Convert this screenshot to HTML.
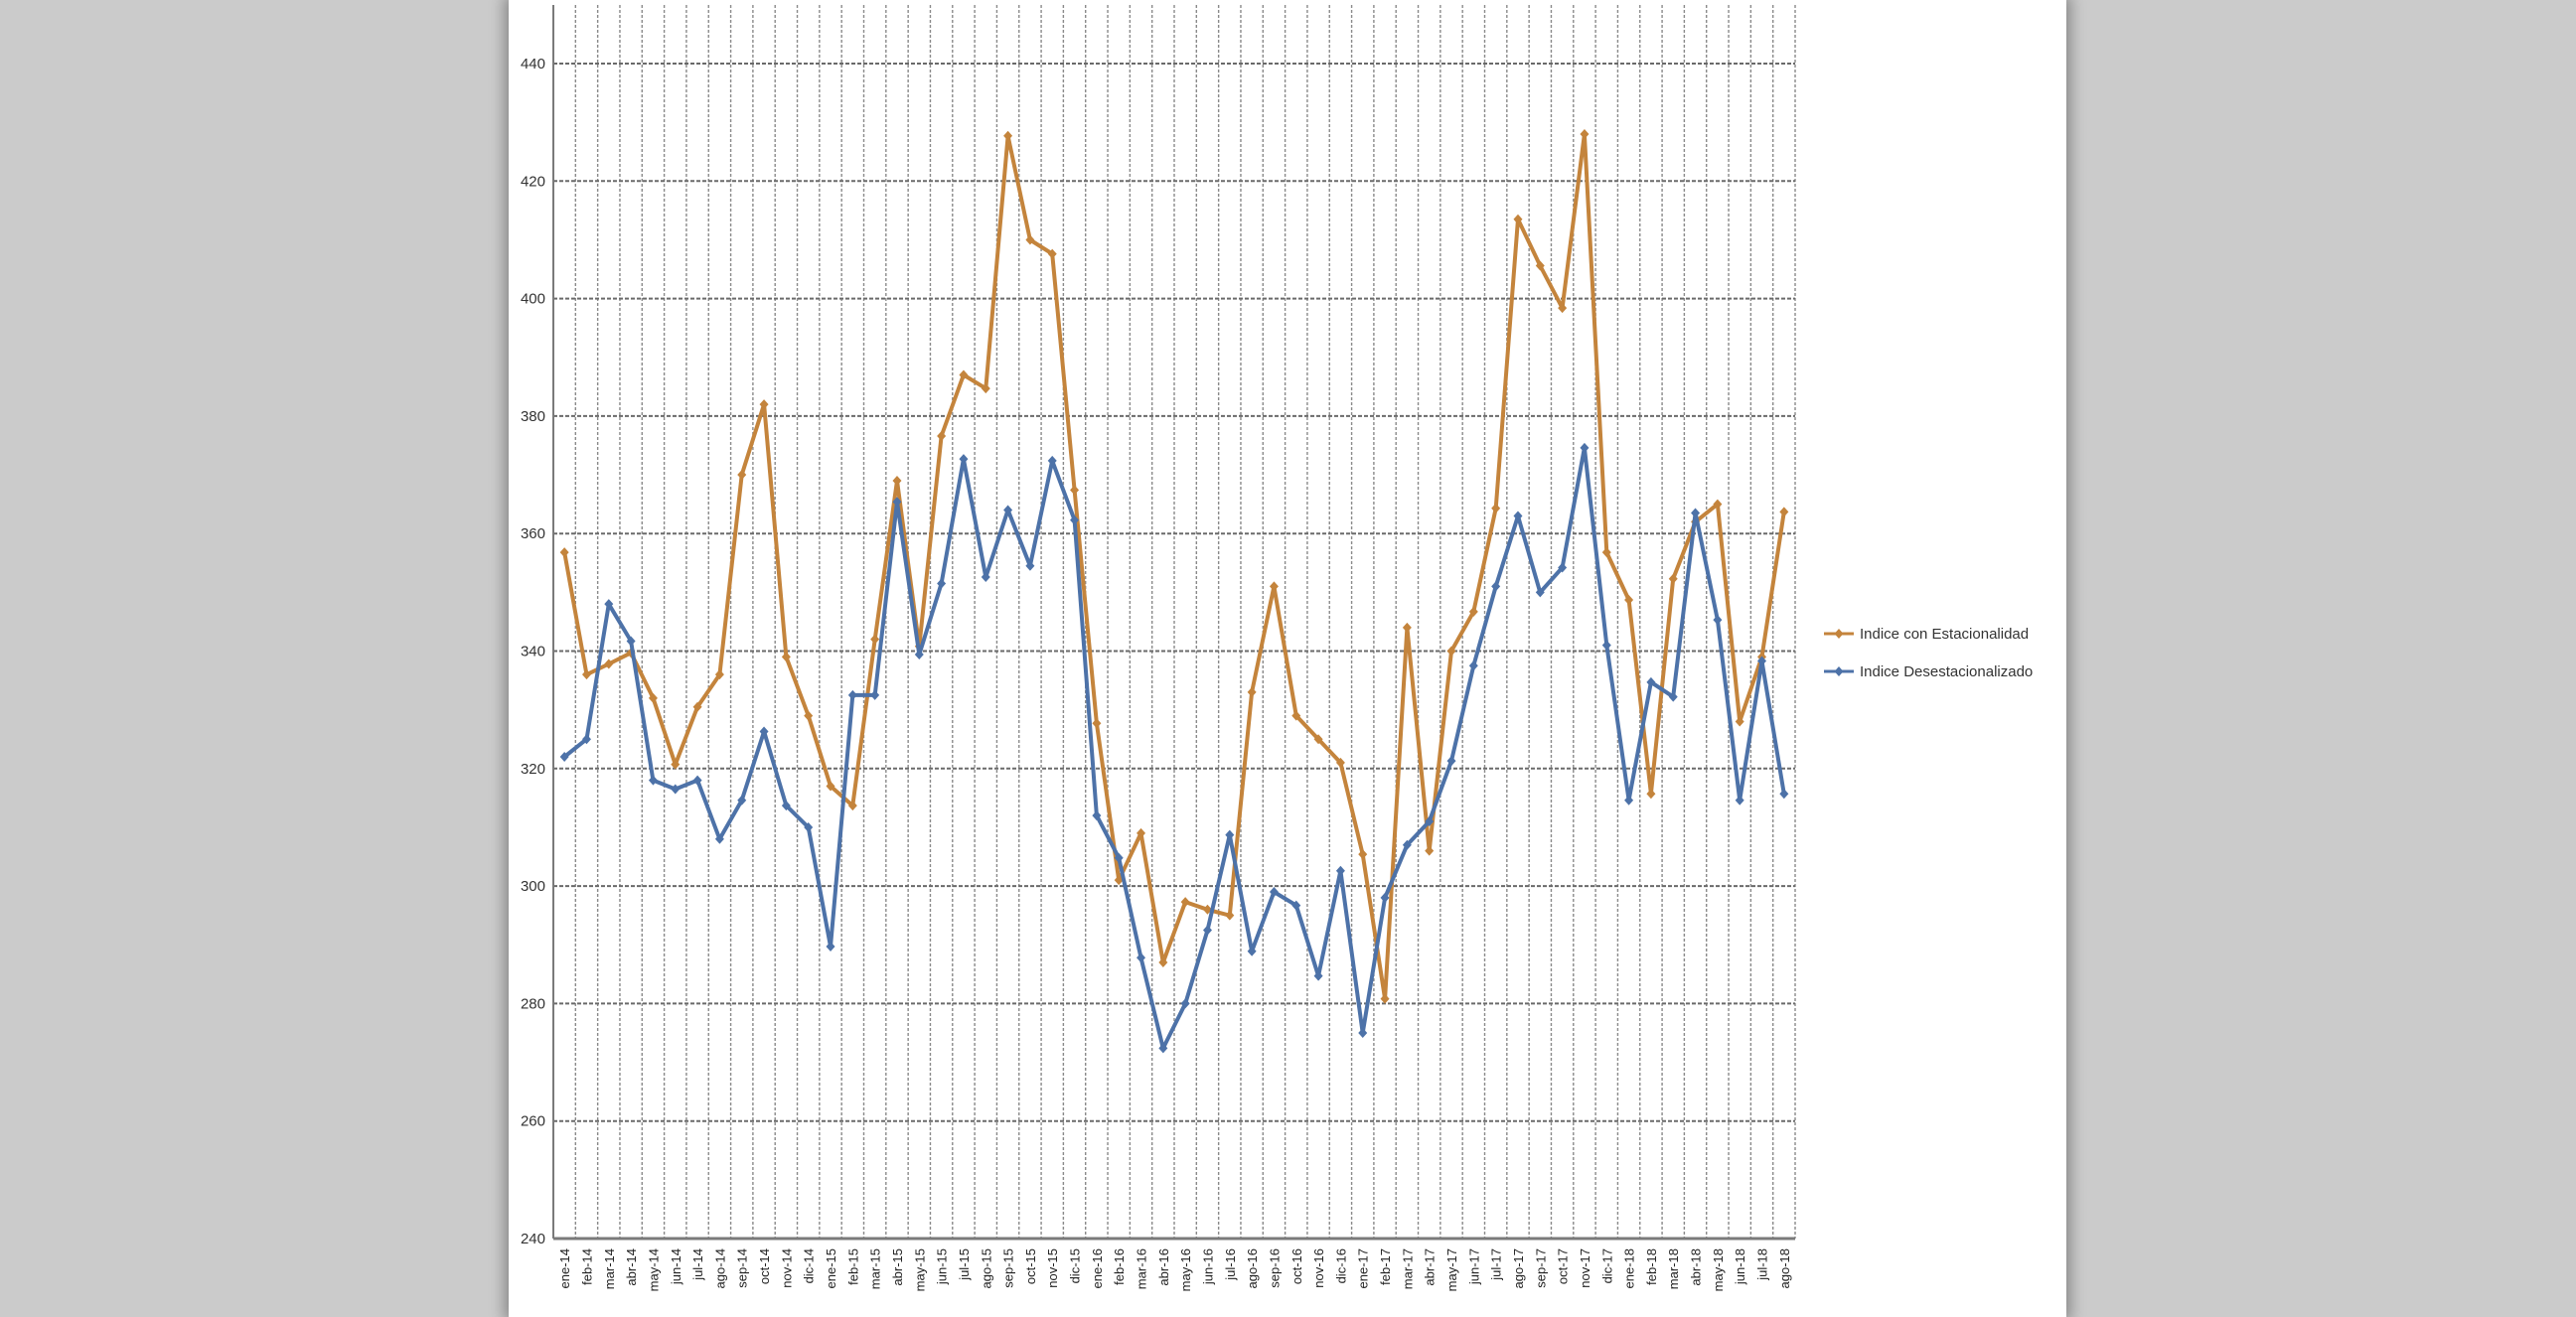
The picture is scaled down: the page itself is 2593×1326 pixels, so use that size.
<!DOCTYPE html>
<html><head><meta charset="utf-8"><style>
html,body{margin:0;padding:0;background:#cbcbcb;width:2593px;height:1326px;overflow:hidden}
#panel{position:absolute;left:512px;top:0;width:1568px;height:1326px;background:#fff;box-shadow:0 0 14px 4px rgba(0,0,0,0.35)}
svg{position:absolute;left:0;top:0}
text{font-family:"Liberation Sans",sans-serif}
</style></head><body>
<div id="panel"></div>
<svg id="chart" width="2593" height="1326"></svg>
<script>
const categories=["ene-14","feb-14","mar-14","abr-14","may-14","jun-14","jul-14","ago-14","sep-14","oct-14","nov-14","dic-14","ene-15","feb-15","mar-15","abr-15","may-15","jun-15","jul-15","ago-15","sep-15","oct-15","nov-15","dic-15","ene-16","feb-16","mar-16","abr-16","may-16","jun-16","jul-16","ago-16","sep-16","oct-16","nov-16","dic-16","ene-17","feb-17","mar-17","abr-17","may-17","jun-17","jul-17","ago-17","sep-17","oct-17","nov-17","dic-17","ene-18","feb-18","mar-18","abr-18","may-18","jun-18","jul-18","ago-18"];
const conEstacionalidad=[356.8,336,337.8,339.7,332,320.7,330.5,336,370,382,339,329,317,313.7,342,369,340.8,376.6,387,384.7,427.7,410,407.6,367.4,327.7,301,309,287,297.3,296,295,333,351,329,325,321,305.4,280.8,344,306,340,346.7,364.3,413.5,405.6,398.4,428,356.8,348.7,315.7,352.3,362,365,328,339,363.7];
const desestacionalizado=[322,325,348,341.7,318,316.5,318,308,314.6,326.3,313.7,310,289.7,332.5,332.5,365.4,339.4,351.5,372.7,352.6,364,354.5,372.4,362.3,312,304.8,287.8,272.4,280,292.5,308.7,288.9,299,296.7,284.7,302.6,275,298,307,311,321.3,337.5,351,363,350,354.2,374.6,341,314.6,334.7,332.2,363.5,345.3,314.6,338.3,315.7];
const yTicks=[240,260,280,300,320,340,360,380,400,420,440];
const seriesNames=["Indice con Estacionalidad","Indice Desestacionalizado"];

const NS="http://www.w3.org/2000/svg";
const svg=document.getElementById('chart');
const X0=557,X1=1807,Y240=1247,Y440=64,TOP=5;
const bw=(X1-X0)/categories.length;
const xPos=i=>X0+bw*(i+0.5);
const yPos=v=>Y240-(v-240)*(Y240-Y440)/200;
function mk(t,a){const e=document.createElementNS(NS,t);for(const k in a)e.setAttribute(k,a[k]);svg.appendChild(e);return e;}

// vertical gridlines
for(let i=0;i<=categories.length;i++){
  const x=X0+bw*i;
  const g=mk('line',{x1:x,x2:x,y1:TOP,y2:Y240,stroke:'#8a8a8a','stroke-width':1.4,'stroke-dasharray':'3,2'});
  
  
}
// horizontal gridlines & y labels
yTicks.forEach(v=>{
  const y=yPos(v);
  if(v>240){
    const g=mk('line',{x1:X0,x2:X1,y1:y,y2:y,stroke:'#6a6a6a','stroke-width':2,'stroke-dasharray':'4,2'});
    
    
  }
  const t=mk('text',{x:X0-8,y:y+5,'text-anchor':'end','font-size':15,fill:'#333'});
  t.textContent=v;
  
  
});
// axes
const ax=mk('line',{x1:X0,x2:X1,y1:Y240,y2:Y240,stroke:'#7a7a7a','stroke-width':3});


const ay=mk('line',{x1:X0,x2:X0,y1:TOP,y2:Y240,stroke:'#7a7a7a','stroke-width':2});


// x labels
categories.forEach((c,i)=>{
  const x=xPos(i)+5,y=Y240+10;
  const t=mk('text',{x:x,y:y,'text-anchor':'end','font-size':13,fill:'#222',transform:`rotate(-90 ${x} ${y})`});
  t.textContent=c;
  
  
});
// series
function drawSeries(vals,color,name){
  const pts=vals.map((v,i)=>xPos(i).toFixed(1)+','+yPos(v).toFixed(1)).join(' ');
  const p=mk('polyline',{points:pts,fill:'none',stroke:color,'stroke-width':4,'stroke-linejoin':'round'});
  
  
  vals.forEach((v,i)=>{
    const x=xPos(i),y=yPos(v);
    const m=mk('path',{d:`M${x} ${y-5}L${x+4.5} ${y}L${x} ${y+5}L${x-4.5} ${y}Z`,fill:color});
    
    
  });
}
drawSeries(conEstacionalidad,'#c4843c','con-estacionalidad');
drawSeries(desestacionalizado,'#4d72a8','desestacionalizado');
// legend
[['#c4843c',638],['#4d72a8',676]].forEach((d,k)=>{
  const l=mk('line',{x1:1836,x2:1866,y1:d[1],y2:d[1],stroke:d[0],'stroke-width':3});
  
  
  const m=mk('path',{d:`M1851 ${d[1]-5}L1855.5 ${d[1]}L1851 ${d[1]+5}L1846.5 ${d[1]}Z`,fill:d[0]});
  
  
  const t=mk('text',{x:1872,y:d[1]+5,'font-size':15,fill:'#333'});
  t.textContent=seriesNames[k];
  
  
});
</script>
</body></html>
